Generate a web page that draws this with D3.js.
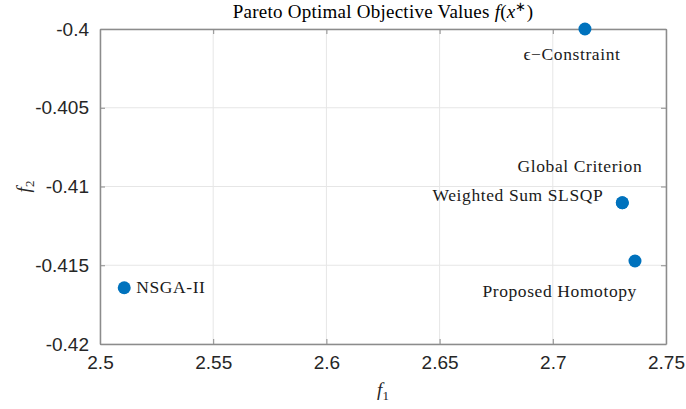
<!DOCTYPE html>
<html><head><meta charset="utf-8">
<script src="https://cdn.jsdelivr.net/npm/d3@7"></script>
<style>body{margin:0;background:#fff}svg{display:block}</style>
</head><body>
<svg id="c" width="686" height="409"></svg>
<script>
const methods = ["ϵ−Constraint","Global Criterion","Weighted Sum SLSQP","Proposed Homotopy","NSGA-II"];
const f1Values = [2.7142, 2.7307, 2.7307, 2.7363, 2.5107];
const f2Values = [-0.4000, -0.41103, -0.41103, -0.41473, -0.41643];
const xTicks = [2.5, 2.55, 2.6, 2.65, 2.7, 2.75];
const xTickLabels = ["2.5","2.55","2.6","2.65","2.7","2.75"];
const yTicks = [-0.4, -0.405, -0.41, -0.415, -0.42];
const yTickLabels = ["-0.4","-0.405","-0.41","-0.415","-0.42"];

// label placement (pixel offsets from point, anchor)
const labelStyle = [
  {dx:-13, dy:31, anchor:"middle"},
  {dx:20, dy:-31, anchor:"end"},
  {dx:-19, dy:-2, anchor:"end"},
  {dx:2, dy:36, anchor:"end"},
  {dx:12, dy:5, anchor:"start"}
];

const svg = d3.select("#c");
const L=100, R=666, T=29, B=344;
const x = d3.scaleLinear().domain([2.5,2.75]).range([L,R]);
const y = d3.scaleLinear().domain([-0.42,-0.4]).range([B,T]);
const serif = "'Liberation Serif','Times New Roman',serif";
const sans = "'Liberation Sans',Arial,sans-serif";

// grid
const g = svg.append("g");
g.selectAll(".gx").data(xTicks).join("line")
  .attr("x1",d=>x(d)).attr("x2",d=>x(d)).attr("y1",T).attr("y2",B)
  .attr("stroke","#e6e6e6").attr("stroke-width",1);
g.selectAll(".gy").data(yTicks).join("line")
  .attr("y1",d=>y(d)).attr("y2",d=>y(d)).attr("x1",L).attr("x2",R)
  .attr("stroke","#e6e6e6").attr("stroke-width",1);

// axes
const tickLen = 5;
const xAxisB = d3.axisBottom(x).tickValues(xTicks).tickFormat((d,i)=>xTickLabels[i]).tickSizeInner(-tickLen).tickSizeOuter(0).tickPadding(12);
const xAxisT = d3.axisTop(x).tickValues(xTicks).tickFormat("").tickSizeInner(-tickLen).tickSizeOuter(0);
const yAxisL = d3.axisLeft(y).tickValues(yTicks).tickFormat((d,i)=>yTickLabels[i]).tickSizeInner(-tickLen).tickSizeOuter(0).tickPadding(11);
const yAxisR = d3.axisRight(y).tickValues(yTicks).tickFormat("").tickSizeInner(-tickLen).tickSizeOuter(0);

function style(sel){
  sel.select(".domain").attr("stroke","#8c8c8c").attr("stroke-width",1.5);
  sel.selectAll(".tick line").attr("stroke","#8c8c8c").attr("stroke-width",1);
  sel.selectAll(".tick text").attr("fill","#262626").style("font-family",sans).style("font-size","19px");
}
svg.append("g").attr("transform",`translate(0,${B})`).call(xAxisB).call(style);
svg.append("g").attr("transform",`translate(0,${T})`).call(xAxisT).call(style);
svg.append("g").attr("transform",`translate(${L},0)`).call(yAxisL).call(style);
svg.append("g").attr("transform",`translate(${R},0)`).call(yAxisR).call(style);

// points
const data = methods.map((m,i)=>({m, f1:f1Values[i], f2:f2Values[i], s:labelStyle[i]}));
svg.selectAll(".pt").data(data).join("circle")
  .attr("cx",d=>x(d.f1)).attr("cy",d=>y(d.f2)).attr("r",6.5).attr("fill","#0072BD");

svg.selectAll(".lbl").data(data).join("text")
  .attr("x",d=>x(d.f1)+d.s.dx).attr("y",d=>y(d.f2)+d.s.dy)
  .attr("text-anchor",d=>d.s.anchor)
  .style("font-family",serif).style("font-size","17.5px").style("letter-spacing","0.6px").attr("fill","#1a1a1a")
  .text(d=>d.m);

// title
const title = svg.append("text").attr("x",(L+R)/2).attr("y",18).attr("text-anchor","middle")
  .style("font-family",serif).style("font-size","19px").style("letter-spacing","0.25px").attr("fill","#000");
title.append("tspan").text("Pareto Optimal Objective Values ");
title.append("tspan").style("font-style","italic").text("f");
title.append("tspan").text("(");
title.append("tspan").style("font-style","italic").text("x");
title.append("tspan").attr("dy",-7).style("font-size","13px").text("∗");
title.append("tspan").attr("dy",7).text(")");

// axis labels
const xl = svg.append("text").attr("x",(L+R)/2).attr("y",396).attr("text-anchor","middle")
  .style("font-family",serif).style("font-size","19px").attr("fill","#262626");
xl.append("tspan").style("font-style","italic").text("f");
xl.append("tspan").attr("dy",4).style("font-size","13px").text("1");

const yl = svg.append("text").attr("transform",`translate(30,${(T+B)/2}) rotate(-90)`).attr("text-anchor","middle")
  .style("font-family",serif).style("font-size","19px").attr("fill","#262626");
yl.append("tspan").style("font-style","italic").text("f");
yl.append("tspan").attr("dy",4).style("font-size","13px").text("2");
</script>
</body></html>
